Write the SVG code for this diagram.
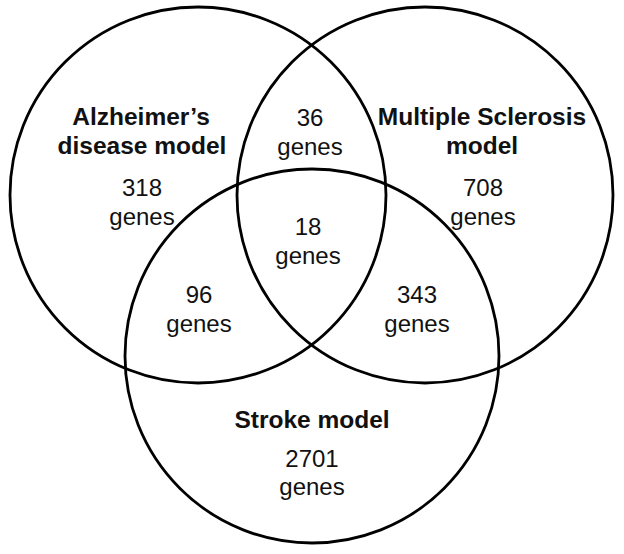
<svg xmlns="http://www.w3.org/2000/svg" width="624" height="554" viewBox="0 0 624 554">
<style>
.c{fill:none;stroke:#000;stroke-width:2.8}
.t{font-family:"Liberation Sans",Arial,sans-serif;font-size:24px;fill:#111;text-anchor:middle}
.b{font-weight:bold;font-size:24.5px}
</style>
<rect width="624" height="554" fill="#fff"/>
<g id="alzheimers">
<circle class="c" cx="198" cy="195" r="188"/>
<text class="t b" x="141" y="125">Alzheimer’s</text>
<text class="t b" x="142" y="154">disease model</text>
<text class="t" x="142" y="196">318</text>
<text class="t" x="142" y="225">genes</text>
</g>
<g id="ms">
<circle class="c" cx="425" cy="195" r="188"/>
<text class="t b" x="482" y="125">Multiple Sclerosis</text>
<text class="t b" x="482" y="154">model</text>
<text class="t" x="483" y="196">708</text>
<text class="t" x="483" y="225">genes</text>
</g>
<g id="stroke">
<circle class="c" cx="312" cy="356" r="187"/>
<text class="t b" x="312" y="428">Stroke model</text>
<text class="t" x="312" y="467">2701</text>
<text class="t" x="312" y="495">genes</text>
</g>
<g id="ad-ms">
<text class="t" x="310" y="126">36</text>
<text class="t" x="310" y="155">genes</text>
</g>
<g id="all">
<text class="t" x="308" y="235">18</text>
<text class="t" x="308" y="264">genes</text>
</g>
<g id="ad-stroke">
<text class="t" x="199" y="303">96</text>
<text class="t" x="199" y="332">genes</text>
</g>
<g id="ms-stroke">
<text class="t" x="417" y="303">343</text>
<text class="t" x="417" y="332">genes</text>
</g>
<g id="connectors"></g>
</svg>
